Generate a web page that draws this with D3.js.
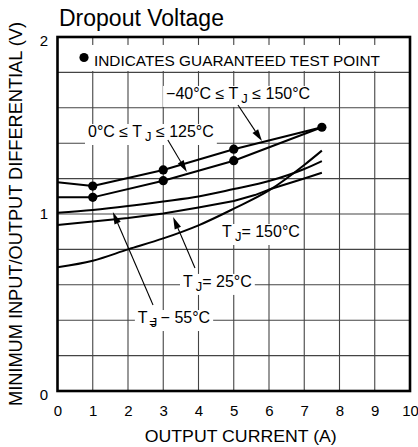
<!DOCTYPE html>
<html>
<head>
<meta charset="utf-8">
<script src="https://cdn.jsdelivr.net/npm/d3@7"></script>
<style>
  html, body { margin: 0; padding: 0; background: #fff; }
  svg { display: block; font-family: "Liberation Sans", Arial, sans-serif; }
</style>
</head>
<body>
<svg id="chart" width="418" height="447"></svg>
<script>
// ---- data ----
const xTicks = [0, 1, 2, 3, 4, 5, 6, 7, 8, 9, 10];
const yTicks = [0, 1, 2];
const xGrid = [1, 2, 3, 4, 5, 6, 7, 8, 9];
const yGrid = [0.2, 0.4, 0.6, 0.8, 1.0, 1.2, 1.4, 1.6, 1.8];

// guaranteed test point curves
const curveAx = [0, 1, 3, 5, 7.5];
const curveAy = [1.179, 1.158, 1.249, 1.366, 1.49];   // -40°C ≤ TJ ≤ 150°C
const curveBx = [0, 1, 3, 5, 7.5];
const curveBy = [1.094, 1.094, 1.188, 1.301, 1.49];   // 0°C ≤ TJ ≤ 125°C
const testPointsA = [1, 3, 5, 7.5];
const testPointsB = [1, 3, 5];

// typical curves
const typX = [0, 1, 2, 3, 4, 5, 6, 7, 7.5];
const tjM55 = [1.007, 1.023, 1.045, 1.071, 1.099, 1.141, 1.186, 1.254, 1.299];
const tj25x = [0, 1, 2, 3, 4, 5, 5.6, 6, 7, 7.5];
const tj25 = [0.938, 0.958, 0.977, 1.003, 1.037, 1.073, 1.107, 1.138, 1.201, 1.233];
const tj150 = [0.699, 0.736, 0.800, 0.862, 0.936, 1.030, 1.133, 1.277, 1.358];

const titleText = "Dropout Voltage";
const xTitle = "OUTPUT CURRENT (A)";
const yTitle = "MINIMUM INPUT/OUTPUT DIFFERENTIAL (V)";
const legendText = "INDICATES GUARANTEED TEST POINT";

// ---- layout ----
const svg = d3.select("#chart");
const x = d3.scaleLinear().domain([0, 10]).range([57.5, 410]);
const y = d3.scaleLinear().domain([0, 2]).range([391, 37]);

// grid
const grid = svg.append("g").attr("stroke", "#444").attr("stroke-width", 1.1);
grid.selectAll("line.vx").data(xGrid).join("line")
  .attr("x1", d => x(d)).attr("x2", d => x(d))
  .attr("y1", y(0)).attr("y2", y(2));
grid.selectAll("line.hy").data(yGrid).join("line")
  .attr("x1", x(0)).attr("x2", x(10))
  .attr("y1", d => y(d)).attr("y2", d => y(d));

// legend band (white, hides grid)
svg.append("rect")
  .attr("x", x(0) + 2).attr("width", x(10) - x(0) - 4)
  .attr("y", y(1.955)).attr("height", y(1.808) - y(1.955))
  .attr("fill", "#fff");

// label layer (boxes first, later filled)
const boxLayer = svg.append("g");

// border
svg.append("rect")
  .attr("x", x(0)).attr("y", y(2))
  .attr("width", x(10) - x(0)).attr("height", y(0) - y(2))
  .attr("fill", "none").attr("stroke", "#000").attr("stroke-width", 2.6);

// lines
const lineLin = d3.line().x(d => x(d[0])).y(d => y(d[1]));
const lineSmooth = d3.line().x(d => x(d[0])).y(d => y(d[1])).curve(d3.curveMonotoneX);
function drawLine(xs, ys, gen) {
  svg.append("path").datum(xs.map((v, i) => [v, ys[i]]))
    .attr("d", gen).attr("fill", "none").attr("stroke", "#000")
    .attr("stroke-width", 2).attr("stroke-linejoin", "round");
}
drawLine(typX, tj150, lineSmooth);
drawLine(tj25x, tj25, lineLin);
drawLine(typX, tjM55, lineSmooth);
drawLine(curveBx, curveBy, lineLin);
drawLine(curveAx, curveAy, lineLin);

// dots
const interp = (xs, ys, v) => ys[xs.indexOf(v)];
svg.selectAll("circle.a").data(testPointsA).join("circle")
  .attr("cx", d => x(d)).attr("cy", d => y(interp(curveAx, curveAy, d))).attr("r", 4.6).attr("fill", "#000");
svg.selectAll("circle.b").data(testPointsB).join("circle")
  .attr("cx", d => x(d)).attr("cy", d => y(interp(curveBx, curveBy, d))).attr("r", 4.6).attr("fill", "#000");

// arrows (annotation positions in data units)
const arrows = [
  [[5.12, 1.616], [5.80, 1.412]],
  [[3.13, 1.418], [3.67, 1.237]],
  [[3.90, 0.695], [3.28, 0.983]],
  [[2.71, 0.486], [1.57, 1.011]]
];
arrows.forEach(([s, t]) => {
  const x1 = x(s[0]), y1 = y(s[1]), x2 = x(t[0]), y2 = y(t[1]);
  const a = Math.atan2(y2 - y1, x2 - x1);
  const L = 12, W = 3.4;
  const bx = x2 - L * Math.cos(a), by = y2 - L * Math.sin(a);
  svg.append("line").attr("x1", x1).attr("y1", y1).attr("x2", bx).attr("y2", by)
    .attr("stroke", "#000").attr("stroke-width", 1.1);
  svg.append("path")
    .attr("d", `M${x2},${y2}L${bx + W * Math.sin(a)},${by - W * Math.cos(a)}L${bx - W * Math.sin(a)},${by + W * Math.cos(a)}Z`)
    .attr("fill", "#000");
});

// labels
const labels = [
  { pos: [3.08, 1.650], pre: "\u221240\u00B0C \u2264 T", post: " \u2264 150\u00B0C", eq: false },
  { pos: [0.865, 1.435], pre: "0\u00B0C \u2264 T", post: " \u2264 125\u00B0C", eq: false },
  { pos: [4.67, 0.870], pre: "T", post: "= 150\u00B0C", eq: false },
  { pos: [3.56, 0.588], pre: "T", post: "= 25\u00B0C", eq: false },
  { pos: [2.28, 0.384], pre: "T", post: " \u2212 55\u00B0C", eq: true }
];
const labelG = svg.append("g");
labels.forEach(l => {
  const t = labelG.append("text")
    .attr("x", x(l.pos[0])).attr("y", y(l.pos[1]))
    .attr("font-size", 16).attr("fill", "#000");
  t.append("tspan").text(l.pre);
  t.append("tspan").attr("dx", 3).attr("dy", 4).attr("font-size", 13).text("J");
  if (l.eq) {
    t.append("tspan").attr("dx", -8).attr("font-size", 12).text("=");
  }
  t.append("tspan").attr("dy", -4).text(l.post);
  const bb = t.node().getBBox();
  boxLayer.append("rect")
    .attr("x", bb.x - 3).attr("y", bb.y + 1)
    .attr("width", bb.width + 6).attr("height", bb.height)
    .attr("fill", "#fff");
});

// legend
svg.append("circle").attr("cx", 84).attr("cy", 57.5).attr("r", 4.6).attr("fill", "#000");
svg.append("text").attr("x", 94).attr("y", 65.5).attr("font-size", 15)
  .attr("textLength", 286).attr("lengthAdjust", "spacingAndGlyphs").text(legendText);

// axes
const xAxis = svg.append("g").attr("transform", `translate(0,${y(0)})`)
  .call(d3.axisBottom(x).tickValues(xTicks).tickSize(0).tickPadding(14.5).tickFormat(d3.format("d")));
xAxis.select(".domain").remove();
xAxis.selectAll("text").attr("font-size", 15).attr("font-family", "Liberation Sans, Arial, sans-serif").attr("fill", "#000");

const yAxis = svg.append("g").attr("transform", `translate(${x(0)},0)`)
  .call(d3.axisLeft(y).tickValues(yTicks).tickSize(0).tickPadding(9.5).tickFormat(d3.format("d")));
yAxis.select(".domain").remove();
yAxis.selectAll("text").attr("font-size", 15).attr("font-family", "Liberation Sans, Arial, sans-serif").attr("fill", "#000")
  .attr("dy", d => d === 1 ? "0.32em" : "0.55em");

// titles
svg.append("text").attr("x", 59).attr("y", 25.5).attr("font-size", 23).text(titleText);
svg.append("text").attr("x", (x(0) + x(10)) / 2 + 7).attr("y", 442)
  .attr("text-anchor", "middle").attr("font-size", 16)
  .attr("textLength", 192).attr("lengthAdjust", "spacingAndGlyphs").text(xTitle);
svg.append("text")
  .attr("transform", `translate(22,${(y(0) + y(2)) / 2}) rotate(-90)`)
  .attr("text-anchor", "middle").attr("font-size", 18.5)
  .attr("textLength", 384).attr("lengthAdjust", "spacingAndGlyphs").text(yTitle);
</script>
</body>
</html>
